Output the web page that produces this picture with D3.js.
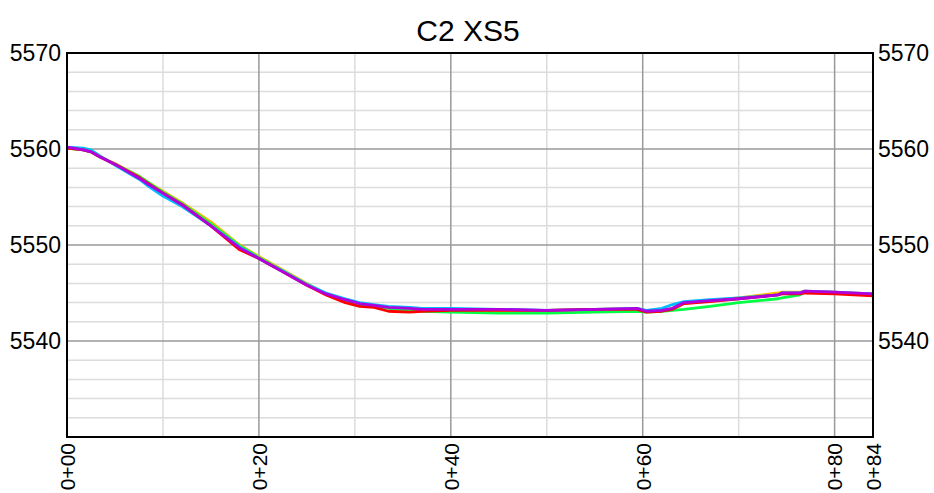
<!DOCTYPE html>
<html>
<head>
<meta charset="utf-8">
<script src="https://cdn.jsdelivr.net/npm/d3@7"></script>
<style>
  html, body { margin: 0; padding: 0; background: #fff; }
  svg { display: block; }
  text { font-family: "Liberation Sans", Arial, sans-serif; fill: #000; }
</style>
</head>
<body>
<svg id="chart" width="934" height="493"></svg>
<script>
// Cross-section C2 XS5: stations (ft) and ground elevations for each survey
const stations = [0, 1.7, 2.5, 3.4, 5.2, 7.6, 8.5, 10, 12, 15, 18, 20, 22.5, 25, 27, 29, 30.5, 32, 33.5, 35.7, 37, 40, 45, 50, 55, 59.4, 60.4, 62, 63.1, 64.3, 67, 70, 74.1, 74.5, 76.4, 76.9, 80, 84];

const elevYellow  = [5560.1, 5559.9, 5559.7, 5559.2, 5558.4, 5557.1, 5556.5, 5555.6, 5554.4, 5552.4, 5550.0, 5548.8, 5547.4, 5546.0, 5544.9, 5544.2, 5543.8, 5543.6, 5543.5, 5543.3, 5543.2, 5543.2, 5543.2, 5543.2, 5543.3, 5543.4, 5543.1, 5543.2, 5543.4, 5543.9, 5544.2, 5544.5, 5545.0, 5545.1, 5545.1, 5545.2, 5545.1, 5544.9];
const elevGreen   = [5560.1, 5559.9, 5559.7, 5559.2, 5558.3, 5557.1, 5556.5, 5555.5, 5554.3, 5552.2, 5549.9, 5548.7, 5547.3, 5545.9, 5544.9, 5544.2, 5543.8, 5543.6, 5543.4, 5543.2, 5543.1, 5543.0, 5542.9, 5542.9, 5543.0, 5543.1, 5543.0, 5543.1, 5543.2, 5543.3, 5543.6, 5544.0, 5544.4, 5544.5, 5544.8, 5545.1, 5545.0, 5544.8];
const elevCyan    = [5560.2, 5560.1, 5559.9, 5559.3, 5558.2, 5556.8, 5556.1, 5555.1, 5554.0, 5552.0, 5549.8, 5548.6, 5547.3, 5545.9, 5545.0, 5544.4, 5544.0, 5543.8, 5543.6, 5543.5, 5543.4, 5543.4, 5543.3, 5543.2, 5543.3, 5543.4, 5543.2, 5543.4, 5543.8, 5544.1, 5544.3, 5544.5, 5544.8, 5545.0, 5545.0, 5545.2, 5545.1, 5544.9];
const elevRed     = [5560.1, 5559.9, 5559.7, 5559.2, 5558.3, 5557.0, 5556.4, 5555.4, 5554.2, 5552.0, 5549.5, 5548.6, 5547.2, 5545.8, 5544.8, 5544.0, 5543.6, 5543.5, 5543.1, 5543.0, 5543.1, 5543.2, 5543.2, 5543.2, 5543.3, 5543.3, 5543.0, 5543.1, 5543.3, 5543.9, 5544.1, 5544.4, 5544.8, 5544.9, 5544.9, 5545.0, 5544.9, 5544.7];
const elevPurple  = [5560.2, 5559.9, 5559.7, 5559.2, 5558.3, 5556.9, 5556.3, 5555.4, 5554.2, 5552.0, 5549.7, 5548.6, 5547.2, 5545.8, 5544.9, 5544.3, 5543.9, 5543.7, 5543.5, 5543.4, 5543.3, 5543.3, 5543.3, 5543.2, 5543.3, 5543.4, 5543.1, 5543.2, 5543.4, 5544.0, 5544.2, 5544.4, 5544.8, 5545.0, 5545.0, 5545.2, 5545.1, 5544.9];

const seriesColors = ["#ffbb00", "#00ff44", "#00bbff", "#ff0000", "#b000e0"];
const seriesElev = [elevYellow, elevGreen, elevCyan, elevRed, elevPurple];

const xMajorTicks = [0, 20, 40, 60, 80, 84];
const xMinorTicks = [10, 30, 50, 70];
const yMajorTicks = [5540, 5550, 5560, 5570];
const yMinorTicks = [5532, 5534, 5536, 5538, 5542, 5544, 5546, 5548, 5552, 5554, 5556, 5558, 5562, 5564, 5566, 5568];
const stationLabel = d => "0+" + String(d).padStart(2, "0");

const chartTitle = "C2 XS5";

const plotLeft = 67, plotRight = 873, plotTop = 53, plotBottom = 437;
const x = d3.scaleLinear().domain([0, 84]).range([plotLeft, plotRight]);
const y = d3.scaleLinear().domain([5530, 5570]).range([plotBottom, plotTop]);

const svg = d3.select("#chart");

// title
svg.append("text")
  .attr("x", 468).attr("y", 41)
  .attr("text-anchor", "middle")
  .style("font-size", "30px")
  .text(chartTitle);

// minor grid
const grid = svg.append("g");
grid.selectAll(".hmin").data(yMinorTicks).join("line")
  .attr("x1", plotLeft).attr("x2", plotRight)
  .attr("y1", d => y(d)).attr("y2", d => y(d))
  .attr("stroke", "#dcdcdc").attr("stroke-width", 1.5);
grid.selectAll(".vmin").data(xMinorTicks).join("line")
  .attr("y1", plotTop).attr("y2", plotBottom)
  .attr("x1", d => x(d)).attr("x2", d => x(d))
  .attr("stroke", "#dcdcdc").attr("stroke-width", 1.5);
// major grid
grid.selectAll(".hmaj").data(yMajorTicks).join("line")
  .attr("x1", plotLeft).attr("x2", plotRight)
  .attr("y1", d => y(d)).attr("y2", d => y(d))
  .attr("stroke", "#999").attr("stroke-width", 1.5);
grid.selectAll(".vmaj").data(xMajorTicks.filter(d => d > 0 && d < 84)).join("line")
  .attr("y1", plotTop).attr("y2", plotBottom)
  .attr("x1", d => x(d)).attr("x2", d => x(d))
  .attr("stroke", "#999").attr("stroke-width", 1.5);

// survey lines
const line = d3.line().x((d, i) => x(stations[i])).y(d => y(d));
svg.append("g").selectAll("path").data(seriesElev).join("path")
  .attr("d", d => line(d))
  .attr("fill", "none")
  .attr("stroke", (d, i) => seriesColors[i])
  .attr("stroke-width", 2.8)
  .attr("stroke-linejoin", "round");

// frame
svg.append("rect")
  .attr("x", plotLeft).attr("y", plotTop)
  .attr("width", plotRight - plotLeft).attr("height", plotBottom - plotTop)
  .attr("fill", "none").attr("stroke", "#000").attr("stroke-width", 2);

// axes labels (no tick lines / domain)
const axLeft = d3.axisLeft(y).tickValues(yMajorTicks).tickSize(0).tickPadding(6).tickFormat(d3.format("d"));
const axRight = d3.axisRight(y).tickValues(yMajorTicks).tickSize(0).tickPadding(5).tickFormat(d3.format("d"));
const axBottom = d3.axisBottom(x).tickValues(xMajorTicks).tickSize(0).tickFormat(stationLabel);

const gl = svg.append("g").attr("transform", `translate(${plotLeft},0)`).call(axLeft);
const gr = svg.append("g").attr("transform", `translate(${plotRight},0)`).call(axRight);
const gb = svg.append("g").attr("transform", `translate(0,${plotBottom})`).call(axBottom);
[gl, gr, gb].forEach(g => {
  g.select(".domain").remove();
  g.selectAll("text").attr("fill", "#000")
    .style("font-family", "'Liberation Sans', Arial, sans-serif");
});
gl.selectAll("text").style("font-size", "23px");
gr.selectAll("text").style("font-size", "23px");
gb.selectAll("text")
  .style("font-size", "21px")
  .attr("transform", "rotate(-90)")
  .attr("x", -6).attr("y", 0).attr("dy", "0.35em")
  .attr("text-anchor", "end");
</script>
</body>
</html>
